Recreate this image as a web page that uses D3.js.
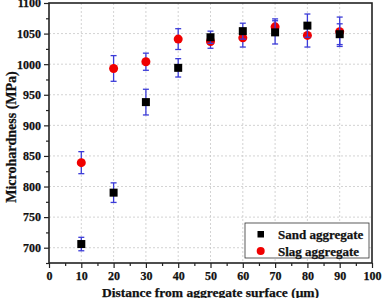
<!DOCTYPE html>
<html><head><meta charset="utf-8">
<script src="https://cdn.jsdelivr.net/npm/d3@7"></script>
<style>
body{margin:0;background:#fff;}
text{font-family:"Liberation Serif","Times New Roman",serif;font-weight:bold;stroke:#111;stroke-width:0.25px;}
</style></head>
<body><svg id="c" width="382" height="298"></svg>
<script>
const distances = [10,20,30,40,50,60,70,80,90];
const sandValues = [706,790,938,994,1044,1054,1052,1063,1049];
const sandErrors = [11,16,21,15,10,13,19,19,17];
const slagValues = [839,993,1004,1041,1037,1043,1061,1047,1053];
const slagErrors = [18,21,14,17,11,15,13,19,24];
const xTicks = [0,10,20,30,40,50,60,70,80,90,100];
const yTicks = [700,750,800,850,900,950,1000,1050,1100];
const seriesNames = ["Sand aggregate","Slag aggregate"];

const svg = d3.select("#c");
const L=49, R=372, T=3, B=263;
const x = d3.scaleLinear().domain([0,100]).range([L,R]);
const y = d3.scaleLinear().domain([675,1100]).range([B,T]);

// grid
const g = svg.append("g");
g.selectAll(".gx").data(xTicks.filter(d=>d>0&&d<100)).join("line")
 .attr("x1",d=>x(d)).attr("x2",d=>x(d)).attr("y1",T).attr("y2",B)
 .attr("stroke","#c8c8c8").attr("stroke-dasharray","2,2").attr("stroke-width",0.8);
g.selectAll(".gy").data(yTicks.filter(d=>d<1100)).join("line")
 .attr("y1",d=>y(d)).attr("y2",d=>y(d)).attr("x1",L).attr("x2",R)
 .attr("stroke","#c8c8c8").attr("stroke-dasharray","2,2").attr("stroke-width",0.8);

// axes
const xAxis = d3.axisBottom(x).tickValues(xTicks).tickSize(5).tickPadding(3).tickFormat(d3.format("d"));
const xMinor = d3.axisBottom(x).tickValues(d3.range(5,100,10)).tickSize(3).tickFormat("");
const yAxis = d3.axisLeft(y).tickValues(yTicks).tickSize(5).tickPadding(3).tickFormat(d3.format("d"));
const yMinor = d3.axisLeft(y).tickValues(d3.range(675,1100,50)).tickSize(3).tickFormat("");
function style(sel){
  sel.select(".domain").remove();
  sel.selectAll("line").attr("stroke","#222").attr("stroke-width",1.2);
  sel.selectAll("text").attr("fill","#111").style("font-size","12px");
}
svg.append("g").attr("transform",`translate(0,${B})`).call(xAxis).call(style);
svg.append("g").attr("transform",`translate(0,${B})`).call(xMinor).call(style);
svg.append("g").attr("transform",`translate(${L},0)`).call(yAxis).call(style);
svg.append("g").attr("transform",`translate(${L},0)`).call(yMinor).call(style);

// frame
svg.append("rect").attr("x",L).attr("y",T).attr("width",R-L).attr("height",B-T)
 .attr("fill","none").attr("stroke","#222").attr("stroke-width",1.6);

// data
function drawSeries(vals, errs, type, color){
  const gg = svg.append("g");
  distances.forEach((d,i)=>{
    const cx=x(d), lo=y(vals[i]-errs[i]), hi=y(vals[i]+errs[i]);
    gg.append("line").attr("x1",cx).attr("x2",cx).attr("y1",lo).attr("y2",hi).attr("stroke","#3b3bd8").attr("stroke-width",1.3);
    [lo,hi].forEach(yy=>gg.append("line").attr("x1",cx-3).attr("x2",cx+3).attr("y1",yy).attr("y2",yy).attr("stroke","#3b3bd8").attr("stroke-width",1.3));
  });
  distances.forEach((d,i)=>{
    if(type==="square") gg.append("rect").attr("x",x(d)-4).attr("y",y(vals[i])-4).attr("width",8).attr("height",8).attr("fill",color);
    else gg.append("circle").attr("cx",x(d)).attr("cy",y(vals[i])).attr("r",4.5).attr("fill",color);
  });
}
drawSeries(slagValues, slagErrors, "circle", "#f00000");
drawSeries(sandValues, sandErrors, "square", "#000");

// legend
const lg = svg.append("g");
lg.append("rect").attr("x",245).attr("y",223).attr("width",124).attr("height",35).attr("fill","#fff").attr("stroke","#333").attr("stroke-width",0.8);
lg.append("rect").attr("x",257.5).attr("y",231).attr("width",6.5).attr("height",6.5).attr("fill","#000");
lg.append("circle").attr("cx",260.7).attr("cy",251).attr("r",4).attr("fill","#f00000");
lg.append("text").attr("x",278).attr("y",238.5).text(seriesNames[0]).style("font-size","13px").attr("fill","#111");
lg.append("text").attr("x",278).attr("y",255.5).text(seriesNames[1]).style("font-size","13px").attr("fill","#111");

// axis titles
svg.append("text").attr("x",(L+R)/2+0).attr("y",297).attr("text-anchor","middle").style("font-size","13.5px").attr("fill","#111")
 .text("Distance from aggregate surface (μm)");
svg.append("text").attr("transform",`translate(16,${(T+B)/2+4}) rotate(-90)`).attr("text-anchor","middle").style("font-size","14px").attr("fill","#111")
 .text("Microhardness (MPa)");
</script></body></html>
